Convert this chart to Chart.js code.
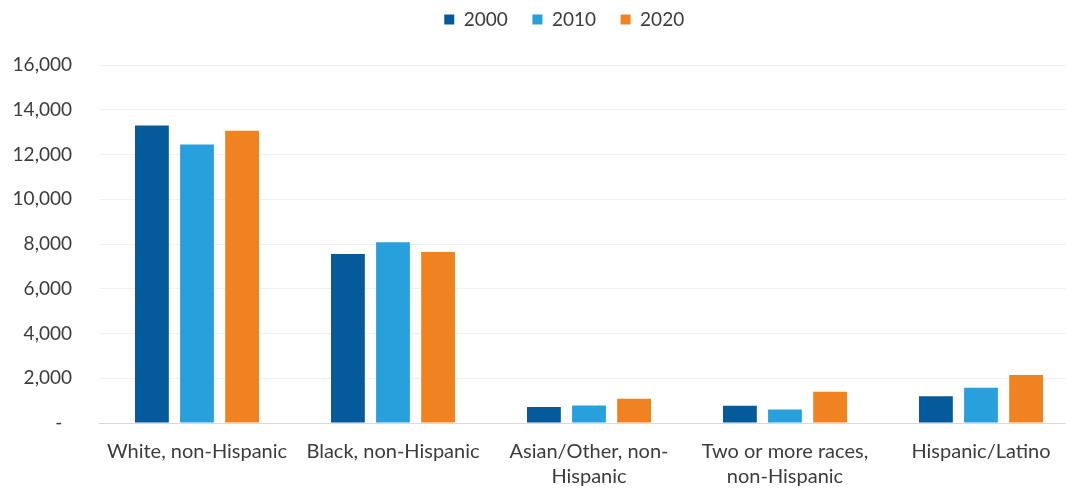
<!DOCTYPE html>
<html>
<head>
<meta charset="utf-8">
<script src="https://cdn.jsdelivr.net/npm/chart.js@4/dist/chart.umd.min.js"></script>
<style>
  html, body { margin: 0; padding: 0; background: #fff; overflow: hidden; }
  #wrap { width: 1100px; height: 489px; }
</style>
</head>
<body>
<div id="wrap"><canvas id="chart"></canvas></div>
<script>
const categories = [
  'White, non-Hispanic',
  'Black, non-Hispanic',
  ['Asian/Other, non-', 'Hispanic'],
  ['Two or more races,', 'non-Hispanic'],
  'Hispanic/Latino'
];
const years = ['2000', '2010', '2020'];
const pop2000 = [13300, 7550, 720, 770, 1200];
const pop2010 = [12450, 8080, 780, 600, 1580];
const pop2020 = [13060, 7640, 1080, 1400, 2150];
const colors = ['#055a9c', '#27a0dc', '#f0821f'];

const textColor = '#3c3c3c';
const family = 'Lato, "Noto Sans", sans-serif';

// legend: more room below it, nudged a bit right
const legendTweak = {
  id: 'legendTweak',
  beforeInit(chart) {
    const fit = chart.legend.fit;
    chart.legend.fit = function () {
      fit.bind(chart.legend)();
      this.height += 26;
    };
  },
  afterLayout(chart) {
    chart.legend.left += 26;
    chart.legend.right += 26;
  }
};

new Chart(document.getElementById('chart'), {
  type: 'bar',
  data: {
    labels: categories,
    datasets: [pop2000, pop2010, pop2020].map((d, i) => ({
      label: years[i],
      data: d,
      backgroundColor: colors[i],
      barPercentage: 0.75,
      categoryPercentage: 0.69
    }))
  },
  plugins: [legendTweak],
  options: {
    responsive: true,
    maintainAspectRatio: false,
    animation: false,
    layout: { padding: { left: 12, right: 21, top: 0, bottom: 0 } },
    plugins: {
      legend: {
        position: 'top',
        labels: {
          boxWidth: 10,
          boxHeight: 10,
          padding: 10,
          color: textColor,
          font: { family, size: 19 },
          generateLabels(chart) {
            return Chart.defaults.plugins.legend.labels.generateLabels(chart)
              .map(l => ({ ...l, text: l.text + '   ' }));
          }
        }
      },
      tooltip: { enabled: false }
    },
    scales: {
      x: {
        afterFit: s => { s.height = 66; },
        grid: { display: false, drawTicks: false },
        border: { color: '#d9d9d9' },
        ticks: {
          color: textColor,
          font: { family, size: 20, lineHeight: 1.25 },
          padding: 16,
          maxRotation: 0,
          autoSkip: false
        }
      },
      y: {
        min: 0,
        max: 16000,
        afterFit: s => { s.width = 87; },
        grid: { color: '#f1f1f1', drawTicks: false },
        border: { display: false },
        ticks: {
          stepSize: 2000,
          color: textColor,
          font: { family, size: 19 },
          padding: 27,
          callback: v => v === 0 ? '-  ' : v.toLocaleString('en-US')
        }
      }
    }
  }
});
</script>
</body>
</html>
